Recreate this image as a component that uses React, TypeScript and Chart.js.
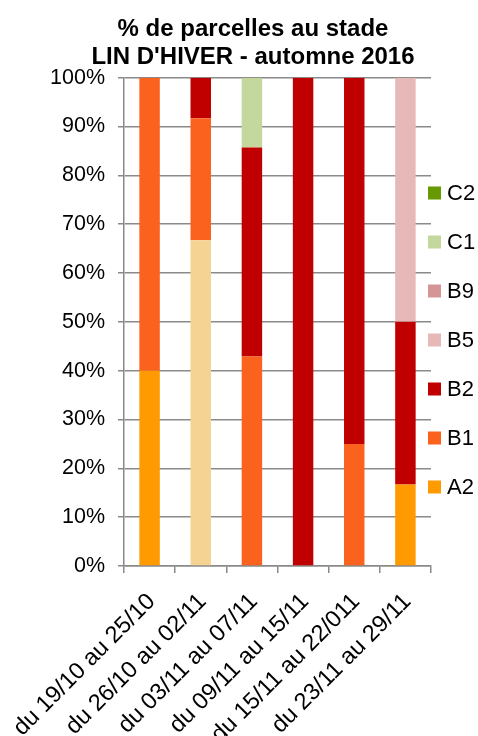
import { useEffect, useRef } from 'react';
import { Chart, registerables } from 'chart.js';

Chart.register(...registerables);

const categories = [
  'du 19/10 au 25/10',
  'du 26/10 au 02/11',
  'du 03/11 au 07/11',
  'du 09/11 au 15/11',
  'du 15/11 au 22/011',
  'du 23/11 au 29/11',
];

const titleLines = ['% de parcelles au stade', "LIN D'HIVER - automne 2016"];

// values in % (bottom to top)
const A1 = [0, 66.7, 0, 0, 0, 0];
const A2 = [40, 0, 0, 0, 0, 16.7];
const B1 = [60, 25, 42.9, 0, 25, 0];
const B2 = [0, 8.3, 42.8, 100, 75, 33.3];
const B5 = [0, 0, 0, 0, 0, 50];
const B9 = [0, 0, 0, 0, 0, 0];
const C1 = [0, 0, 14.3, 0, 0, 0];
const C2 = [0, 0, 0, 0, 0, 0];

const yMin = 0;
const yMax = 100;
const yStep = 10;

const legendOrder = ['C2', 'C1', 'B9', 'B5', 'B2', 'B1', 'A2'];

const FONT = "'Liberation Sans', Arial, sans-serif";
const GRID = '#8a8a8a';

const sideLegend = {
  id: 'sideLegend',
  afterDraw(chart: any) {
    const ctx = chart.ctx as CanvasRenderingContext2D;
    const startY = 193;
    const step = 49;
    const boxX = 428;
    const box = 13;
    const textX = 447;
    ctx.save();
    ctx.font = `22px ${FONT}`;
    ctx.textBaseline = 'middle';
    ctx.textAlign = 'left';
    legendOrder.forEach((name, i) => {
      const ds = chart.data.datasets.find((d: any) => d.label === name);
      if (!ds) return;
      const cy = startY + i * step;
      ctx.fillStyle = ds.backgroundColor;
      ctx.fillRect(boxX, cy - box / 2, box, box);
      ctx.fillStyle = '#000';
      ctx.fillText(name, textX, cy + 1);
    });
    ctx.restore();
  },
};

export default function App() {
  const ref = useRef<HTMLCanvasElement | null>(null);

  useEffect(() => {
    if (!ref.current) return;
    const mk = (label: string, data: number[], color: string) => ({
      label,
      data,
      backgroundColor: color,
      borderWidth: 0,
      barPercentage: 0.4,
      categoryPercentage: 1.0,
      yAxisID: 'y',
    });
    const chart = new Chart(ref.current, {
      type: 'bar',
      data: {
        labels: categories,
        datasets: [
          mk('A1', A1, '#F5D493'),
          mk('A2', A2, '#FF9A00'),
          mk('B1', B1, '#FA621E'),
          mk('B2', B2, '#C00000'),
          mk('B5', B5, '#E6B8B8'),
          mk('B9', B9, '#D59596'),
          mk('C1', C1, '#C4D79C'),
          mk('C2', C2, '#669A00'),
        ],
      },
      options: {
        responsive: false,
        animation: false,
        devicePixelRatio: 1,
        layout: { padding: { left: 28, right: 0, top: 0, bottom: 0 } },
        plugins: {
          legend: { display: false },
          tooltip: { enabled: false },
          title: {
            display: true,
            text: titleLines,
            color: '#000',
            font: { family: FONT, size: 24, weight: 'bold', lineHeight: 1.18 },
            padding: { top: 15, bottom: 6 },
          },
        },
        scales: {
          x: {
            stacked: true,
            offset: true,
            grid: {
              display: true,
              drawOnChartArea: false,
              drawTicks: true,
              tickLength: 7,
              color: GRID,
              lineWidth: 1.5,
              offset: true,
            },
            border: { display: true, color: GRID, width: 1.5 },
            ticks: {
              color: '#000',
              font: { family: FONT, size: 23.5 },
              maxRotation: 45,
              minRotation: 45,
              autoSkip: false,
              padding: 15,
              labelOffset: 2,
            },
            afterFit(scale: any) {
              scale.height = 214;
              scale.paddingLeft = 0;
              scale.paddingRight = 0;
            },
          },
          y: {
            stacked: true,
            position: 'left',
            min: yMin,
            max: yMax,
            ticks: {
              stepSize: yStep,
              color: '#000',
              font: { family: FONT, size: 21.5 },
              padding: 13,
              callback: (v: any) => `${v}%`,
            },
            grid: {
              color: GRID,
              lineWidth: 1.5,
              tickLength: 6,
              drawTicks: true,
            },
            border: { display: true, color: GRID, width: 1.5 },
            afterFit(scale: any) {
              scale.width = 96;
            },
          },
          yRight: {
            type: 'linear',
            position: 'right',
            display: true,
            min: yMin,
            max: yMax,
            grid: { display: false, drawTicks: false },
            border: { display: false },
            ticks: { display: false },
            afterFit(scale: any) {
              scale.width = 47;
            },
          },
        },
      },
      plugins: [sideLegend],
    });
    return () => chart.destroy();
  }, []);

  return (
    <div style={{ position: 'absolute', left: 0, top: 0, width: 478, height: 780, background: '#fff' }}>
      <canvas ref={ref} width={478} height={780} />
    </div>
  );
}
